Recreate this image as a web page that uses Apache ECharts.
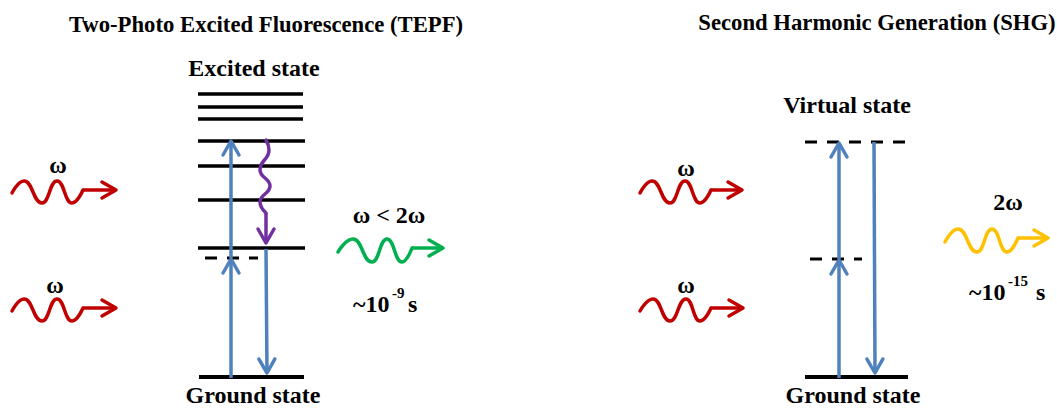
<!DOCTYPE html>
<html><head><meta charset="utf-8">
<script src="https://cdn.jsdelivr.net/npm/echarts@6/dist/echarts.min.js"></script>
<style>html,body{margin:0;padding:0;background:#fff}#c{width:1057px;height:408px}</style>
</head><body><div id="c"></div>
<script>
// Diagram coordinates: x 0..1057 (right), y 0..408 (down)
// Energy levels: [xStart, xEnd, y]
const tepfExcitedLevels = [[198,303,94],[198,303,107],[198,303,119],[198,305,141],[198,305,166],[198,305,200],[198,305,248]];
const groundLevels = [[199,304,377],[805,908,377]];
const virtualLevels = [[205,258,258],[810,862,259],[805,905,142]];
// Straight arrows: [x1, y1, x2, y2] (tip at x2,y2)
const blueArrows = [[231,378,231,259],[231,258,231,141],[266,249,267,373],[839,378,839,260],[839,259,839,143],[874,142,875,373]];
const redTails = [[83,190,116,190],[83,308,116,308],[711,190,742,190],[711,308,743,308]];
const greenTails = [[412,248,443,248]];
const yellowTails = [[1018,238,1048,238]];
const purpleTails = [[266,213,266,243]];
// Wavy photon paths: crest/trough points
const redWaveTopLeft = [[12,193],[24,181],[42,203],[57,181],[72,203],[83,190]];
const redWaveBottomLeft = [[12,311],[24,299],[42,321],[57,299],[72,321],[83,308]];
const redWaveTopRight = [[640,193],[652,181],[670,203],[685,181],[700,203],[711,190]];
const redWaveBottomRight = [[640,311],[653,299],[670,321],[686,299],[700,321],[711,308]];
const greenWave = [[338,252],[353,239],[372,262],[387,239],[402,262],[412,248]];
const yellowWave = [[945,242],[958,229],[977,252],[992,229],[1007,252],[1018,238]];
const purpleWave = [[266,140],[269,150],[260,170],[270,186],[260,202],[266,213]];
// Texts: [text, x, y]
const titleTexts = [["Two-Photo Excited Fluorescence (TEPF)",266,24],["Second Harmonic Generation (SHG)",877,22]];
const stateTexts = [["Excited state",254,68],["Ground state",253,395],["Virtual state",847,105],["Ground state",853,395]];
const omegaTexts = [["ω",58,165],["ω",55,285],["ω",686,168],["ω",686,285],["ω < 2ω",389,215],["2ω",1008,202]];
const timeTexts = [["~10",353,304],["s",408,304],["~10",969,292],["s",1036,292]];
const supTexts = [["-9",392,293],["-15",1008,281]];

const FONT_FAMILY = 'Liberation Serif';
const chart = echarts.init(document.getElementById('c'), null, {renderer:'svg'});

function levelSeries(data, width, dash){
  return {type:'custom', data:data, silent:true,
    renderItem:function(p, api){
      const a = api.coord([api.value(0), api.value(2)]);
      const b = api.coord([api.value(1), api.value(2)]);
      return {type:'line', shape:{x1:a[0],y1:a[1],x2:b[0],y2:b[1]},
        style:{stroke:'#000', lineWidth:width, lineDash:dash||null}};
    }};
}
function arrowSeries(data, color, width){
  return {type:'custom', data:data, silent:true,
    renderItem:function(p, api){
      const a = api.coord([api.value(0), api.value(1)]);
      const b = api.coord([api.value(2), api.value(3)]);
      const dx=b[0]-a[0], dy=b[1]-a[1], len=Math.hypot(dx,dy), ux=dx/len, uy=dy/len;
      const L=14, W=8;
      const w1=[b[0]-ux*L-uy*W, b[1]-uy*L+ux*W], w2=[b[0]-ux*L+uy*W, b[1]-uy*L-ux*W];
      return {type:'group', children:[
        {type:'polyline', shape:{points:[a,b]}, style:{stroke:color, lineWidth:width, fill:'none', lineCap:'butt'}},
        {type:'polyline', shape:{points:[w1,b,w2]}, style:{stroke:color, lineWidth:width, fill:'none', lineCap:'round', lineJoin:'round'}}
      ]};
    }};
}
function waveSeries(data, color, mono){
  return {type:'line', data:data, smooth:0.5, smoothMonotone:mono, showSymbol:false, silent:true,
    lineStyle:{color:color, width:3.5, cap:'round', join:'round'}};
}
function textSeries(arr, size, align){
  return {type:'custom', data:arr.map(d=>[d[1],d[2]]), silent:true,
    renderItem:function(p, api){
      const t = arr[p.dataIndex];
      const c = api.coord([api.value(0), api.value(1)]);
      return {type:'text', x:c[0], y:c[1],
        style:{text:t[0], fill:'#000', fontFamily:FONT_FAMILY, fontWeight:'bold', fontSize:size, align:align, verticalAlign:'middle'}};
    }};
}

chart.setOption({
  animation:false,
  backgroundColor:'#fff',
  grid:{left:0,right:0,top:0,bottom:0},
  xAxis:{type:'value', min:0, max:1057, show:false},
  yAxis:{type:'value', min:0, max:408, inverse:true, show:false},
  series:[
    levelSeries(tepfExcitedLevels, 3.5),
    levelSeries(groundLevels, 4),
    levelSeries(virtualLevels, 3, [12,10]),
    arrowSeries(blueArrows, '#4F81BD', 3.5),
    waveSeries(redWaveTopLeft, '#C00000', 'x'),
    waveSeries(redWaveBottomLeft, '#C00000', 'x'),
    waveSeries(redWaveTopRight, '#C00000', 'x'),
    waveSeries(redWaveBottomRight, '#C00000', 'x'),
    waveSeries(greenWave, '#00B050', 'x'),
    waveSeries(yellowWave, '#FFC000', 'x'),
    waveSeries(purpleWave, '#7030A0', 'y'),
    arrowSeries(redTails, '#C00000', 3.5),
    arrowSeries(greenTails, '#00B050', 3.5),
    arrowSeries(yellowTails, '#FFC000', 3.5),
    arrowSeries(purpleTails, '#7030A0', 3.5),
    textSeries(titleTexts, 22.7, 'center'),
    textSeries(stateTexts, 24, 'center'),
    textSeries(omegaTexts, 24, 'center'),
    textSeries(timeTexts, 24, 'left'),
    textSeries(supTexts, 15, 'left')
  ]
});
</script></body></html>
